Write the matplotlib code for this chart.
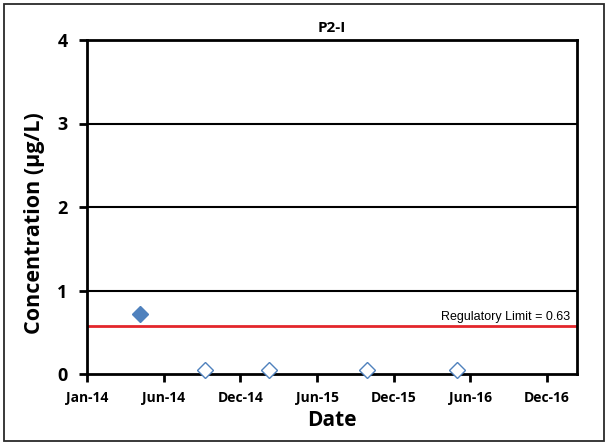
import datetime as dt
import matplotlib
matplotlib.use("Agg")
import matplotlib.pyplot as plt
import matplotlib.dates as mdates
from matplotlib.patches import Rectangle

# -------- DATA --------
detect_dates = [dt.date(2014, 5, 5)]
detect_values = [0.72]
nd_dates = [dt.date(2014, 10, 5), dt.date(2015, 3, 3), dt.date(2015, 10, 19), dt.date(2016, 5, 18)]
nd_values = [0.05, 0.05, 0.05, 0.05]
limit_value = 0.57
limit_label = "Regulatory Limit = 0.63"
title = "P2-I"

x_start = dt.date(2014, 1, 1)
x_end = x_start + dt.timedelta(days=1150)
x_ticks = [x_start + dt.timedelta(days=180 * i) for i in range(7)]
y_ticks = [0, 1, 2, 3, 4]

BLUE = "#4F81BD"
RED = "#E3262B"
FONT = ["Open Sans", "DejaVu Sans"]

# -------- FIGURE --------
fig = plt.figure(figsize=(6.08, 4.45), dpi=100)
ax = fig.add_axes([87 / 608, 1 - 374 / 445, 490 / 608, 334 / 445])

# outer chart border
fig.patches.append(Rectangle((4 / 608, 4 / 445), 600 / 608, 437 / 445,
                             transform=fig.transFigure, fill=False,
                             edgecolor="#2a2a2a", linewidth=1.3))

for y in y_ticks[1:-1]:
    ax.axhline(y, color="black", linewidth=1.5, zorder=1)

ax.axhline(limit_value, color=RED, linewidth=2, zorder=2)
ax.text(0.985, limit_value + 0.04, limit_label, transform=ax.get_yaxis_transform(),
        ha="right", va="bottom", fontsize=9, family="Liberation Sans")

ax.plot(detect_dates, detect_values, linestyle="none", marker="D", ms=8.5,
        color=BLUE, markeredgecolor=BLUE, zorder=3)
ax.plot(nd_dates, nd_values, linestyle="none", marker="D", ms=8.5,
        markerfacecolor="white", markeredgecolor=BLUE, markeredgewidth=1, zorder=3,
        clip_on=False)

ax.set_xlim(x_start, x_end)
ax.set_ylim(0, 4)
ax.set_xticks(x_ticks)
ax.xaxis.set_major_formatter(mdates.DateFormatter("%b-%y"))
ax.set_yticks(y_ticks)

for s in ax.spines.values():
    s.set_linewidth(2)
ax.tick_params(axis="both", direction="out", length=6, width=2)
ax.tick_params(axis="x", labelsize=10, pad=6)
ax.tick_params(axis="y", labelsize=13, pad=8)
for lbl in ax.get_xticklabels() + ax.get_yticklabels():
    lbl.set_fontweight("bold")
    lbl.set_family(FONT)

ax.set_title(title, fontsize=11, fontweight="bold", family=FONT, pad=6)
ax.set_xlabel("Date", fontsize=15, fontweight="bold", family=FONT, labelpad=4)
ax.set_ylabel("Concentration (µg/L)", fontsize=15.5, fontweight="bold", family=FONT)
ax.yaxis.set_label_coords(-0.086, 0.452)

fig.savefig("out.png", dpi=100)
